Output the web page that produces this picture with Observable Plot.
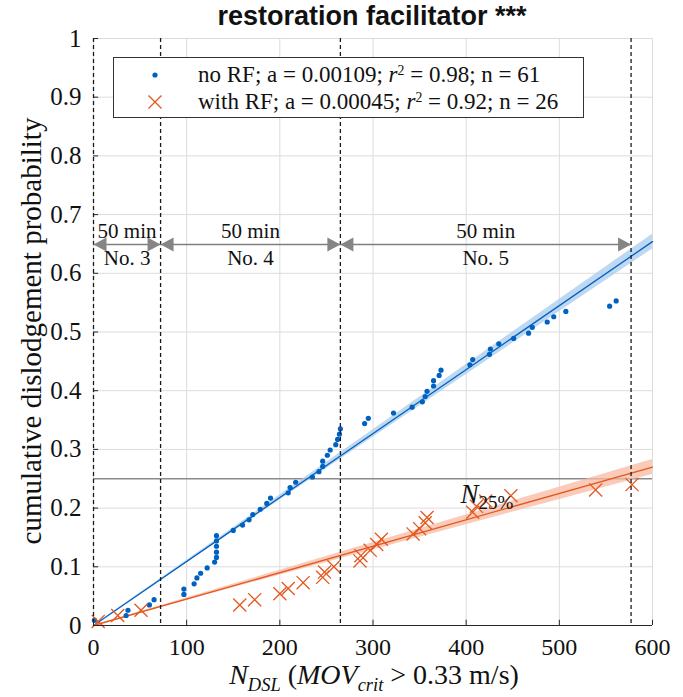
<!DOCTYPE html>
<html>
<head>
<meta charset="utf-8">
<script src="https://cdn.jsdelivr.net/npm/d3@7"></script>
<script src="https://cdn.jsdelivr.net/npm/@observablehq/plot@0.6"></script>
<style>
  html, body { margin: 0; padding: 0; background: #fff; }
  #wrap { position: relative; width: 683px; height: 697px; overflow: hidden; }
  #wrap svg { position: absolute; left: 0; top: 0; }
  .ser { font-family: "Liberation Serif", "Times New Roman", serif; color: #111; }
  #title { position: absolute; left: 372px; top: 1px; transform: translateX(-50%); font: bold 27px "Liberation Sans", Arial, sans-serif; white-space: nowrap; color: #111; line-height: 30px; }
  #ylab { position: absolute; left: 31px; top: 331px; transform: translate(-50%, -50%) rotate(-90deg); font-size: 29px; white-space: nowrap; line-height: 30px; }
  #xlab { position: absolute; left: 374px; top: 675px; transform: translate(-50%, -50%); font-size: 28px; white-space: nowrap; line-height: 28px; }
  #legend { position: absolute; left: 113px; top: 57px; width: 471px; height: 61px; border: 1px solid #333; background: #fff; box-sizing: border-box; }
  .lrow { position: absolute; left: 84px; font-size: 23px; white-space: nowrap; line-height: 23px; }
  sub { font-size: 0.66em; line-height: 0; }
  sup { font-size: 0.6em; line-height: 0; vertical-align: 0.5em; }
</style>
</head>
<body>
<div id="wrap"></div>
<script>
// ---------- data ----------
const xTicks = [0, 100, 200, 300, 400, 500, 600];
const yTicks = [0, 0.1, 0.2, 0.3, 0.4, 0.5, 0.6, 0.7, 0.8, 0.9, 1];

// no RF (blue dots)
const noRF_x = [1,35,37,60,65,97,97,108,111,115,122,130,132,132,132,132,132,150,160,167,171,179,186,190,209,211,217,235,242,246,246,251,254,260,262,264,265,291,295,322,342,353,356,358,365,365,371,373,404,407,425,426,435,451,467,471,487,494,507,554,561];
const noRF_y = [0.009,0.017,0.026,0.035,0.044,0.053,0.062,0.071,0.081,0.089,0.098,0.108,0.116,0.125,0.135,0.144,0.153,0.162,0.171,0.180,0.189,0.198,0.208,0.217,0.226,0.235,0.244,0.253,0.262,0.271,0.280,0.290,0.299,0.308,0.317,0.326,0.335,0.344,0.353,0.362,0.372,0.381,0.390,0.399,0.408,0.417,0.426,0.435,0.444,0.453,0.462,0.471,0.480,0.489,0.498,0.508,0.517,0.526,0.535,0.544,0.553];

// with RF (orange crosses)
const RF_x = [5,26,51,157,173,200,209,225,246,248,258,286,287,297,304,309,343,350,356,358,407,411,421,448,539,578];
const RF_y = [0.007,0.017,0.026,0.035,0.044,0.054,0.063,0.073,0.082,0.091,0.100,0.110,0.119,0.128,0.138,0.147,0.156,0.165,0.175,0.184,0.193,0.203,0.212,0.221,0.231,0.240];

// fits through origin: slope a and confidence half-width of slope
const slopes = [0.00109, 0.00045];
const slopeCI = [0.000021, 0.000021];
const fitX = [0, 600];

// sessions
const sessionBounds = [0, 72, 265, 577];
const sessionNames = ["No. 3", "No. 4", "No. 5"];
const sessionDur = ["50 min", "50 min", "50 min"];
const arrowLevel = 0.649;
const threshold = 0.25;
const n25Label = {x: 394, y: 0.223};

// ---------- tables ----------
const blue = "#0062c0", orange = "#e4571f";
const blueData = noRF_x.map((x, i) => ({x, y: noRF_y[i]}));
const rfData = RF_x.map((x, i) => ({x, y: RF_y[i]}));
const fits = [];
slopes.forEach((a, k) => fitX.forEach(x => fits.push({k, x, y: a * x, lo: (a - slopeCI[k]) * x, hi: (a + slopeCI[k]) * x})));
const segs = sessionNames.map((name, i) => ({x1: sessionBounds[i], x2: sessionBounds[i + 1], name, dur: sessionDur[i], mid: (sessionBounds[i] + sessionBounds[i + 1]) / 2}));

const triRight = {draw(ctx) { ctx.moveTo(0, 0); ctx.lineTo(-13, -7); ctx.lineTo(-13, 7); ctx.closePath(); }};
const triLeft = {draw(ctx) { ctx.moveTo(0, 0); ctx.lineTo(13, -7); ctx.lineTo(13, 7); ctx.closePath(); }};

const serif = "Liberation Serif";

const chart = Plot.plot({
  width: 683, height: 697,
  marginLeft: 93, marginRight: 31, marginTop: 38, marginBottom: 72,
  x: {domain: [0, 600]},
  y: {domain: [0, 1]},
  style: {background: "transparent"},
  marks: [
    Plot.gridX(xTicks, {stroke: "#dcdcdc", strokeOpacity: 1}),
    Plot.gridY(yTicks, {stroke: "#dcdcdc", strokeOpacity: 1}),
    Plot.ruleY([threshold], {stroke: "#8a8a8a", strokeWidth: 1.6}),
    Plot.areaY(fits.filter(d => d.k === 0), {x: "x", y1: "lo", y2: "hi", fill: "#a8cbee", fillOpacity: 0.75}),
    Plot.areaY(fits.filter(d => d.k === 1), {x: "x", y1: "lo", y2: "hi", fill: "#f8b9a0", fillOpacity: 0.75}),
    Plot.line(fits.filter(d => d.k === 0), {x: "x", y: "y", stroke: blue, strokeWidth: 1.3}),
    Plot.line(fits.filter(d => d.k === 1), {x: "x", y: "y", stroke: orange, strokeWidth: 1.3}),
    Plot.dot(blueData, {x: "x", y: "y", r: 2.6, fill: blue}),
    Plot.dot(rfData, {x: "x", y: "y", r: 6, symbol: "times", stroke: orange, strokeWidth: 1.3}),
    Plot.ruleX(sessionBounds, {stroke: "#1a1a1a", strokeWidth: 1.3, strokeDasharray: "4,3"}),
    // axes lines & inward ticks
    Plot.ruleY([0], {stroke: "#262626", strokeWidth: 1.2}),
    Plot.ruleX(xTicks, {x: d => d, y1: 0, y2: 0.009, stroke: "#262626", strokeWidth: 1}),
    Plot.ruleY(yTicks, {y: d => d, x1: 0, x2: 5.5, stroke: "#262626", strokeWidth: 1}),
    Plot.axisX({ticks: xTicks, tickSize: 0, tickPadding: 12, label: null, fontSize: 24, fontFamily: serif, fill: "#111"}),
    Plot.axisY({ticks: yTicks, tickSize: 0, tickPadding: 12, label: null, fontSize: 25, fontFamily: serif, fill: "#111", tickFormat: d => String(d)}),
    // session arrows
    Plot.link(segs, {x1: "x1", x2: "x2", y1: arrowLevel, y2: arrowLevel, stroke: "#7f7f7f", strokeWidth: 1.5}),
    Plot.dot(segs, {x: "x1", y: arrowLevel, symbol: triLeft, fill: "#858585", stroke: "none"}),
    Plot.dot(segs, {x: "x2", y: arrowLevel, symbol: triRight, fill: "#858585", stroke: "none"}),
    Plot.text(segs, {x: "mid", y: arrowLevel, text: "dur", dy: -13, fontSize: 21, fontFamily: serif, fill: "#111"}),
    Plot.text(segs, {x: "mid", y: arrowLevel, text: "name", dy: 14, fontSize: 21, fontFamily: serif, fill: "#111"}),
    // N25% label
    Plot.text([n25Label], {x: "x", y: "y", text: () => "N", textAnchor: "start", fontSize: 27, fontStyle: "italic", fontFamily: serif, fill: "#111"}),
    Plot.text([n25Label], {x: "x", y: "y", text: () => "25%", textAnchor: "start", dx: 18, dy: 8, fontSize: 19, fontFamily: serif, fill: "#111"})
  ]
});

const wrap = document.getElementById("wrap");
wrap.appendChild(chart);
wrap.insertAdjacentHTML("beforeend", `
  <div id="title">restoration facilitator ***</div>
  <div id="ylab" class="ser">cumulative dislodgement probability</div>
  <div id="xlab" class="ser"><i>N</i><sub><i>DSL</i></sub> (<i>MOV</i><sub><i>crit</i></sub> &gt; 0.33 m/s)</div>
  <div id="legend" class="ser">
    <svg width="84" height="60" style="position:absolute;left:0;top:0">
      <circle cx="41" cy="17" r="2.6" fill="${blue}"></circle>
      <path d="M34.5,37.5 L47.5,50.5 M47.5,37.5 L34.5,50.5" stroke="${orange}" stroke-width="1.3" fill="none"></path>
    </svg>
    <div class="lrow" style="top:5px">no RF; a = 0.00109; <i>r</i><sup>2</sup> = 0.98; n = 61</div>
    <div class="lrow" style="top:32px">with RF; a = 0.00045; <i>r</i><sup>2</sup> = 0.92; n = 26</div>
  </div>
`);
</script>
</body>
</html>
